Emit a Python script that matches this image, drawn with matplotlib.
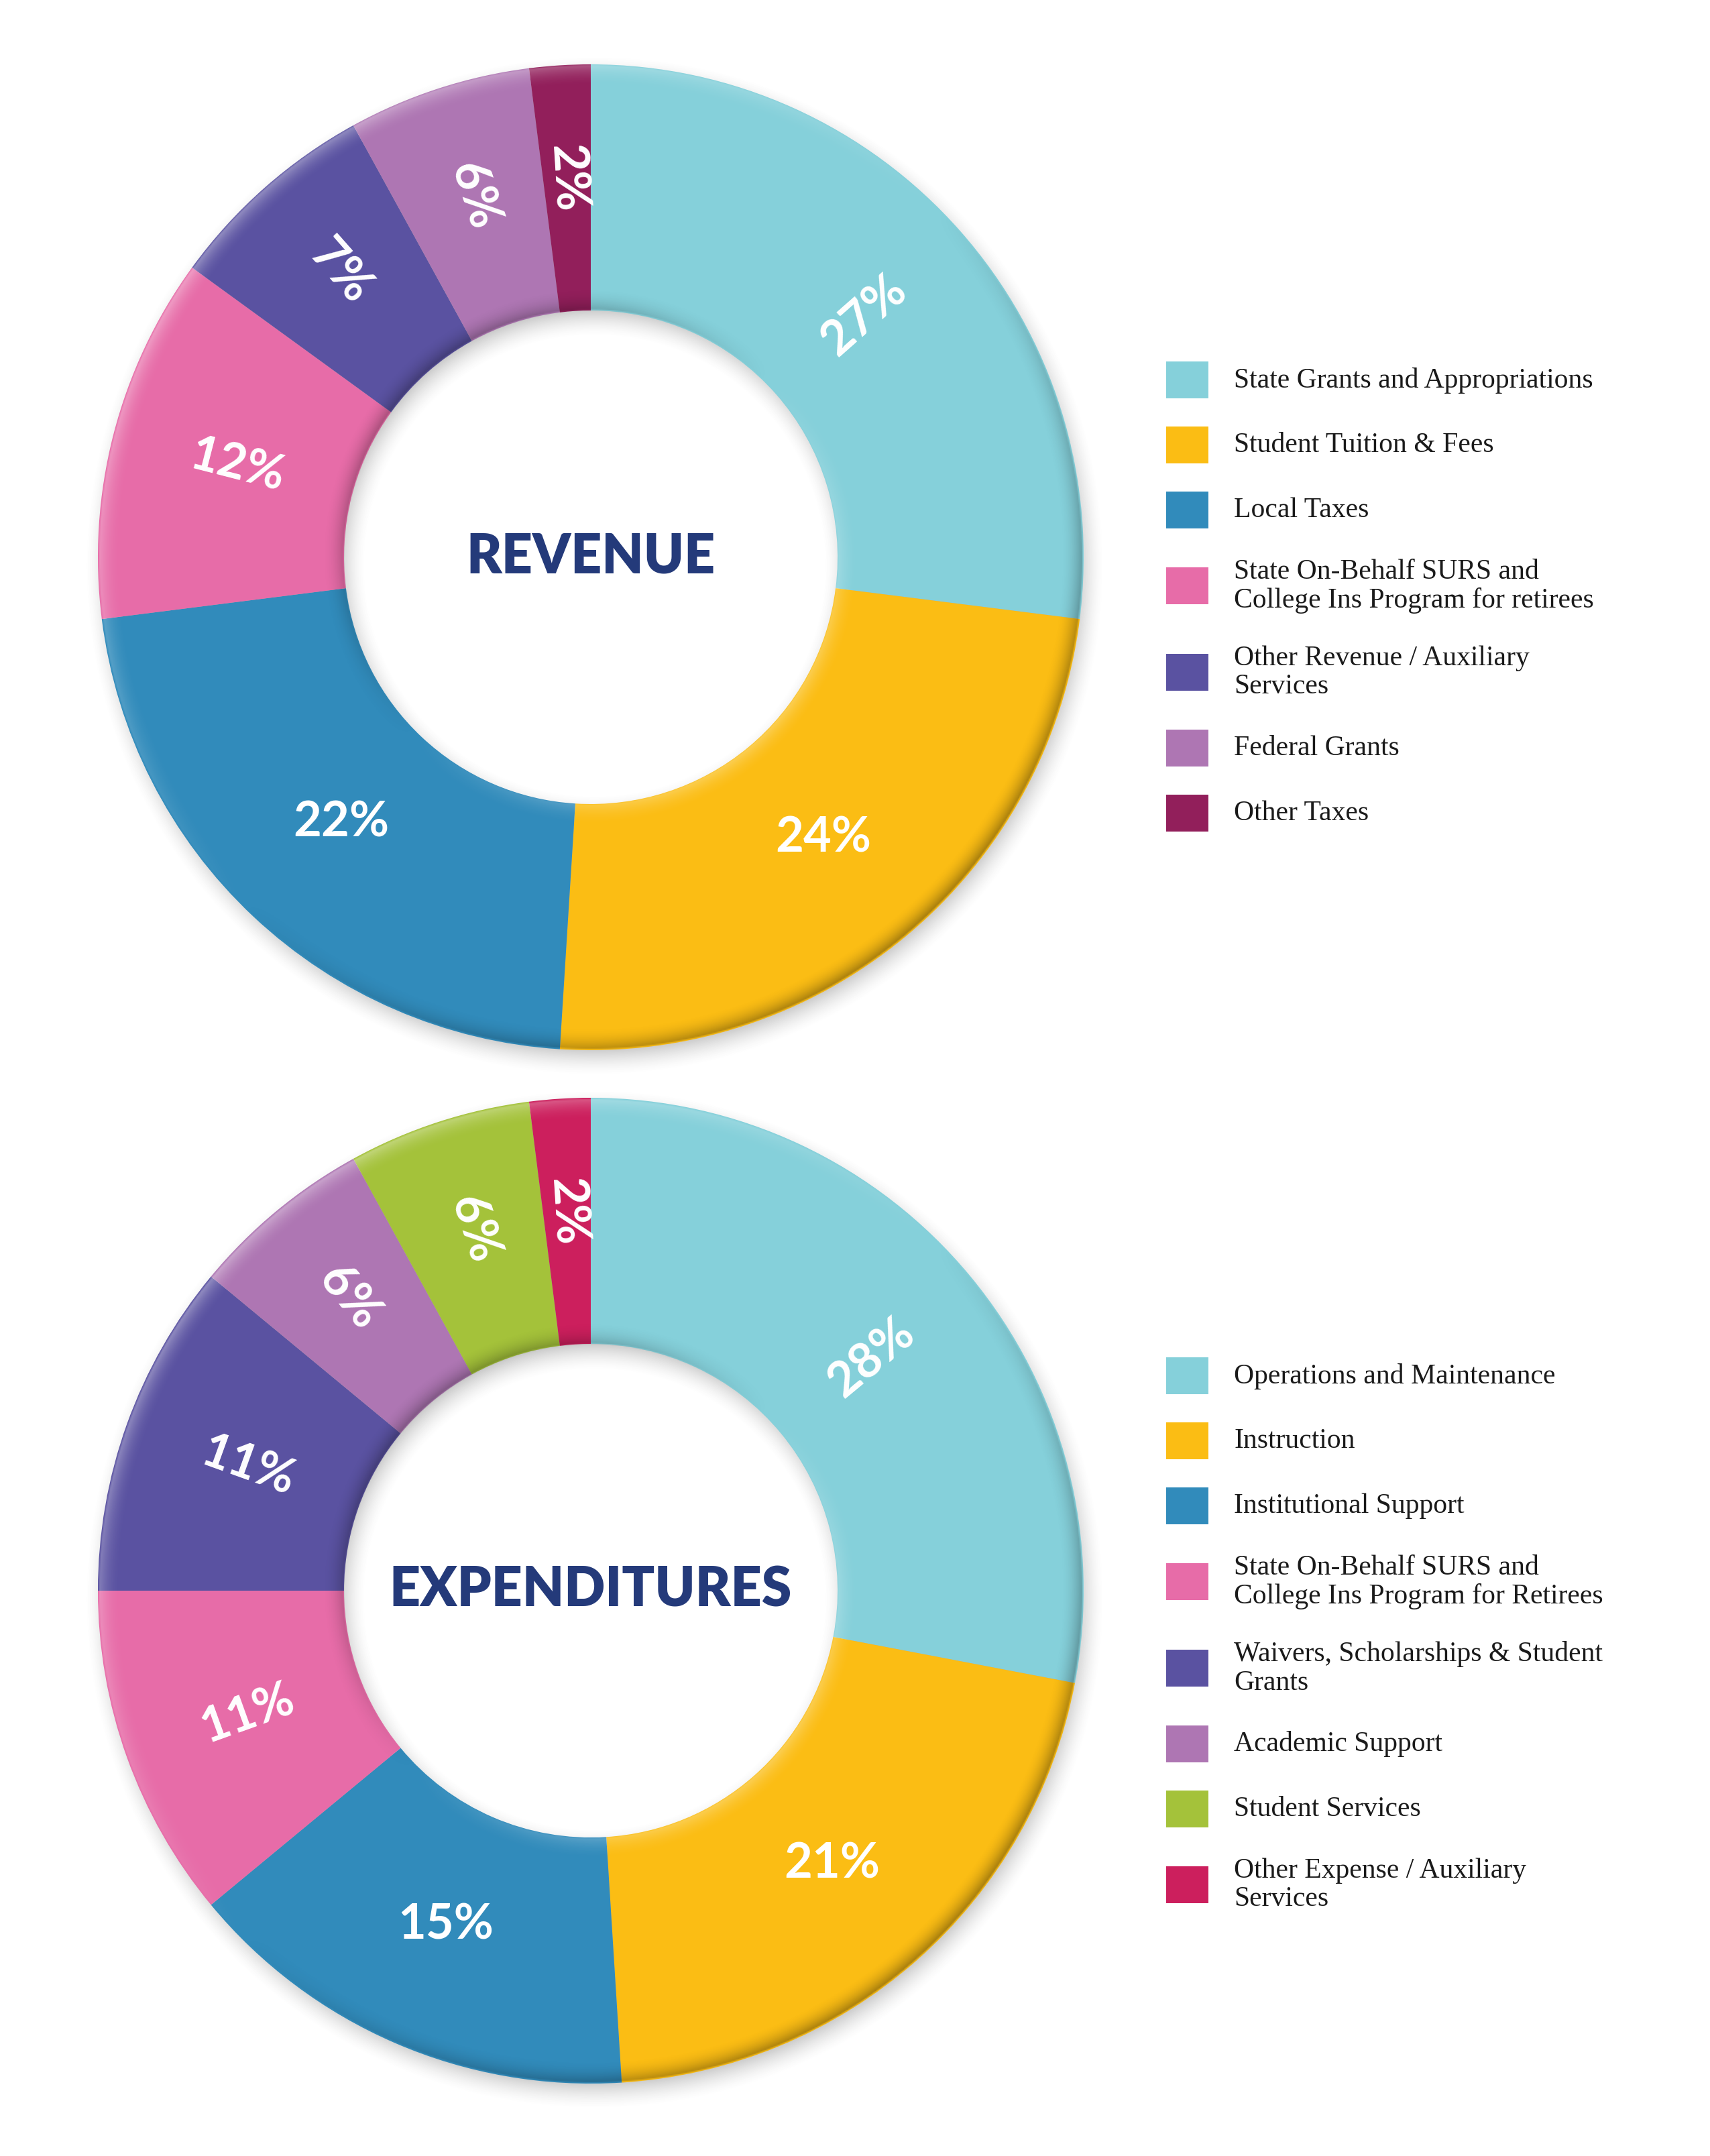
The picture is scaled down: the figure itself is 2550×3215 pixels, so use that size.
import numpy as np
import matplotlib
matplotlib.use('Agg')
import matplotlib.pyplot as plt
from matplotlib.patches import Rectangle

# canvas size in pixels (figure is drawn 1 data unit = 1 pixel)
W, H = 2550, 3215

# revenue data
rev_labels = ["State Grants and Appropriations",
              "Student Tuition & Fees",
              "Local Taxes",
              "State On-Behalf SURS and\nCollege Ins Program for retirees",
              "Other Revenue / Auxiliary\nServices",
              "Federal Grants",
              "Other Taxes"]
rev_values = [27, 24, 22, 12, 7, 6, 2]
rev_colors = ["#85D0DA", "#FBBD14", "#318BBB", "#E76CA8", "#5A52A1", "#AE76B3", "#921F5B"]

# expenditure data
exp_labels = ["Operations and Maintenance",
              "Instruction",
              "Institutional Support",
              "State On-Behalf SURS and\nCollege Ins Program for Retirees",
              "Waivers, Scholarships & Student\nGrants",
              "Academic Support",
              "Student Services",
              "Other Expense / Auxiliary\nServices"]
exp_values = [28, 21, 15, 11, 11, 6, 6, 2]
exp_colors = ["#85D0DA", "#FBBD14", "#318BBB", "#E76CA8", "#5A52A1", "#AE76B3", "#A4C23A", "#CC1F5D"]

NAVY = "#243A7A"
SANS = ["Lato", "DejaVu Sans"]
SERIF = ["Liberation Serif", "DejaVu Serif"]

fig = plt.figure(figsize=(25.5, 32.15), dpi=100)
ax = fig.add_axes([0, 0, 1, 1])


def shading(cx, cy, R, r_in):
    pad = 100
    xs = np.arange(cx - R - pad, cx + R + pad, 2.0)
    ys = np.arange(cy - R - pad, cy + R + pad, 2.0)
    X, Y = np.meshgrid(xs, ys)
    ext = (xs[0], xs[-1], ys[0], ys[-1])

    # soft drop shadow of the ring, shifted down-right
    d = np.hypot(X - (cx + 6), Y - (cy - 13))
    b = 26
    outer = np.clip((R + b - d) / (2 * b), 0, 1)
    inner = np.clip((d - (r_in - b)) / (2 * b), 0, 1)
    sh = np.zeros(X.shape + (4,))
    sh[..., :3] = 0.3
    sh[..., 3] = 0.45 * outer ** 1.6 * inner ** 1.6
    ax.imshow(sh, extent=ext, origin='lower', zorder=0.5, interpolation='bilinear')

    # bevel on the ring edges
    d0 = np.hypot(X - cx, Y - cy)
    ang = np.arctan2(Y - cy, X - cx)
    facing = np.cos(ang + np.pi / 4)
    w = 34
    e_out = np.clip(1 - (R - d0) / w, 0, 1) ** 2
    e_in = np.clip(1 - (d0 - r_in) / w, 0, 1) ** 2
    val = -facing * e_out * 0.38 + facing * e_in * 0.30
    mask = np.clip(R - d0, 0, 2) / 2 * np.clip(d0 - r_in, 0, 2) / 2
    bv = np.zeros(X.shape + (4,))
    bv[..., :3] = np.where(val > 0, 1.0, 0.0)[..., None]
    bv[..., 3] = np.abs(val) * mask
    ax.imshow(bv, extent=ext, origin='lower', zorder=3, interpolation='bilinear')


def donut(values, colors, title, cx, cy, R=735, r_in=368):
    shading(cx, cy, R, r_in)
    wedges, _ = ax.pie(values, colors=colors, center=(cx, cy), radius=R,
                       startangle=90, counterclock=False, frame=True,
                       wedgeprops=dict(width=R - r_in, linewidth=0))
    for wd in wedges:
        wd.set_zorder(2)
    for wd, v in zip(wedges, values):
        mid = (wd.theta1 + wd.theta2) / 2
        a = mid % 360
        rr = R * 0.74
        if 0 < a <= 90:
            rot = a
        elif 90 < a < 210:
            rot = a - 180
            if a < 150:
                rr = R * 0.77
        else:
            rot = 0
        x = cx + rr * np.cos(np.radians(mid))
        y = cy + rr * np.sin(np.radians(mid))
        ax.text(x, y, f"{v}%", color="white", fontsize=52, fontweight="bold",
                family=SANS, rotation=rot, rotation_mode="anchor",
                ha="center", va="center", zorder=5)
    ax.text(cx, cy, title, color=NAVY, fontsize=58, fontweight="heavy",
            family=SANS, ha="center", va="center", zorder=5)


def legend(labels, colors, y_first):
    y = y_first
    prev = None
    for lab, col in zip(labels, colors):
        n = lab.count("\n") + 1
        if prev is not None:
            y -= 97 + 16 * ((n - 1) + (prev - 1))
        ax.add_patch(Rectangle((1739, y - 27), 63, 55, color=col, lw=0, zorder=4))
        ax.text(1840, y, lab, fontsize=30, family=SERIF, color="#1a1a1a",
                ha="left", va="center", linespacing=1.12, zorder=4)
        prev = n


donut(rev_values, rev_colors, "REVENUE", 881, H - 831)
donut(exp_values, exp_colors, "EXPENDITURES", 881, H - 2372)
legend(rev_labels, rev_colors, H - 567)
legend(exp_labels, exp_colors, H - 2052)

ax.set_xlim(0, W)
ax.set_ylim(0, H)
ax.set_aspect("equal")
ax.axis("off")

plt.savefig("out.png", dpi=100, facecolor="white")
